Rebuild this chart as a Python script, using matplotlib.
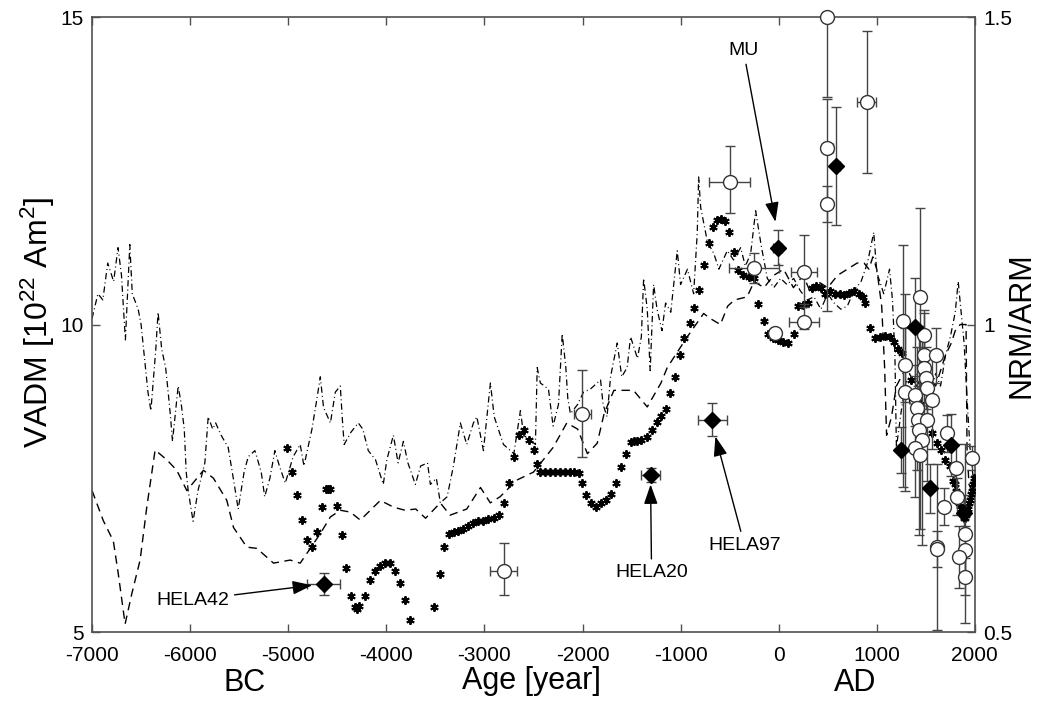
import matplotlib
matplotlib.use("Agg")
import matplotlib.pyplot as plt

plt.rcParams['font.family'] = ['Liberation Sans', 'DejaVu Sans']
plt.rcParams['mathtext.fontset'] = 'custom'
plt.rcParams['mathtext.rm'] = 'Liberation Sans'
plt.rcParams['mathtext.it'] = 'Liberation Sans:italic'
plt.rcParams['mathtext.bf'] = 'Liberation Sans:bold'
plt.rcParams['axes.unicode_minus'] = False

# ---- dash-dot model curve ----
dd_x = [-7000,-6940,-6890,-6840,-6780,-6735,-6700,-6660,-6615,-6590,-6530,-6500,-6462,-6430,-6400,-6350,-6327,-6290,-6250,-6224,
        -6200,-6180,-6122,-6090,-6060,-6040,-6020,-5970,-5920,-5850,-5816,-5770,-5740,-5684,-5612,-5560,-5510,-5450,-5408,-5340,
        -5275,-5240,-5187,-5136,-5090,-5030,-4950,-4878,-4840,-4758,-4707,-4673,-4640,-4570,-4520,-4469,-4450,-4430,-4360,-4286,
        -4240,-4184,-4110,-4031,-3995,-3928,-3880,-3826,-3780,-3704,-3650,-3580,-3551,-3490,-3449,-3380,-3316,-3245,-3180,-3112,
        -3077,-3010,-2939,-2900,-2806,-2700,-2633,-2600,-2480,-2462,-2430,-2347,-2300,-2245,-2207,-2170,-2150,-2123,-2050,-1990,
        -1920,-1816,-1790,-1750,-1714,-1646,-1600,-1545,-1510,-1440,-1400,-1377,-1340,-1310,-1275,-1240,-1190,-1153,-1100,-1034,
        -1000,-930,-867,-830,-816,-795,-727,-660,-610,-524,-460,-388,-340,-286,-235,-180,-116,-50,20,85,
        153,220,292,360,430,500,565,633,700,767,840,905,969,1000,1071,1130,1160,1185,1200,1250,
        1300,1350,1400,1450,1500,1550,1600,1650,1700,1750,1800,1830,1860,1890,1920,1950,1990]
dd_y = [10.1,10.5,10.4,11.0,10.7,11.25,10.8,9.75,11.3,10.5,10.25,10.0,9.4,8.9,8.6,9.6,10.2,9.6,9.3,8.9,
        8.5,8.1,9.0,8.7,8.3,7.6,7.3,6.8,7.3,7.75,8.5,8.3,8.4,8.2,8.0,7.5,7.0,7.6,7.85,7.95,
        7.6,7.2,7.5,7.95,7.7,7.42,7.85,8.05,7.7,8.3,8.8,9.15,8.65,8.4,8.9,9.0,8.5,8.05,8.25,8.4,
        8.3,7.95,7.8,7.4,7.8,8.2,7.75,8.1,7.75,7.4,7.7,7.75,7.4,7.5,7.1,7.2,7.7,8.4,8.05,8.4,
        8.5,7.95,9.05,8.5,8.05,7.9,8.6,8.2,8.05,9.3,9.05,8.95,8.35,8.7,9.85,9.3,8.8,8.55,8.7,8.9,
        8.95,9.1,8.7,8.5,9.15,9.7,9.15,9.3,9.8,9.45,9.8,10.75,10.25,9.25,10.65,10.25,9.9,10.35,10.2,11.2,
        10.65,10.9,10.5,11.5,12.4,11.9,11.35,11.15,10.9,11.2,11.05,11.25,10.95,11.15,11.85,11.3,10.75,10.6,10.75,10.65,
        10.75,10.55,10.4,10.45,10.25,10.5,10.35,10.25,10.3,10.55,10.7,11.0,11.5,10.85,10.5,10.9,10.4,9.5,8.0,8.6,
        9.1,8.6,9.2,8.8,9.3,8.9,9.2,9.0,9.5,9.8,10.2,10.7,10.2,9.7,8.8,8.0,7.4]

# ---- dashed model curve ----
ds_x = [-7000,-6885,-6783,-6732,-6663,-6595,-6510,-6442,-6357,-6238,-6136,-6034,-5864,-5762,-5626,-5558,-5422,-5320,-5150,-4980,
        -4878,-4809,-4673,-4571,-4469,-4367,-4265,-4163,-4061,-3926,-3810,-3700,-3600,-3450,-3350,-3180,-3040,-2940,-2840,-2670,
        -2500,-2300,-2160,-2050,-1950,-1850,-1780,-1680,-1480,-1340,-1200,-1136,-932,-765,-700,-594,-520,-450,-322,-250,
        -150,-50,50,150,250,330,400,500,600,700,800,870,920,960,1000,1050,1080,1100,1150,1200,
        1300,1400,1500,1600,1700,1760,1800,1850,1910,1920,1940,2000]
ds_y = [7.3,6.81,6.48,5.94,5.13,5.62,6.17,7.03,7.96,7.8,7.63,7.3,7.63,7.5,7.14,6.7,6.38,6.36,6.12,6.17,
        6.12,6.28,6.6,6.87,6.98,6.95,6.82,6.98,7.14,7.03,6.98,7.0,6.85,7.1,6.9,7.0,7.35,7.1,7.2,7.47,
        7.6,8.0,8.4,8.3,7.9,8.07,8.55,8.93,8.93,8.66,9.05,9.3,9.8,10.18,10.1,10.0,10.3,10.4,10.45,10.7,
        10.6,10.8,10.9,10.6,10.8,10.5,10.7,10.6,10.8,10.9,11.0,11.0,10.9,11.1,10.9,10.3,9.3,8.2,8.5,9.0,
        9.3,9.0,9.2,9.0,9.5,9.7,9.9,10.0,10.0,8.0,7.4,7.2]

# ---- asterisk series ----
ast_x = [-5014,-4963,-4912,-4861,-4810,-4760,-4708,-4657,-4620,-4595,-4570,-4504,-4453,-4412,-4358,-4320,-4300,-4280,-4214,-4163,
         -4112,-4061,-4010,-3960,-3909,-3858,-3807,-3757,-3519,-3457,-3416,-3365,-3315,-3265,-3215,-3165,-3115,-3065,-3015,-2960,
         -2905,-2855,-2803,-2751,-2700,-2650,-2599,-2548,-2497,-2463,-2430,-2380,-2330,-2280,-2230,-2180,-2130,-2090,-2038,-2004,
         -1969,-1918,-1867,-1816,-1765,-1714,-1663,-1612,-1560,-1510,-1475,-1440,-1400,-1340,-1290,-1240,-1195,-1147,-1104,-1060,
         -1010,-970,-908,-867,-816,-765,-715,-669,-630,-590,-550,-507,-460,-410,-360,-300,-250,-212,-150,-112,
         -60,-10,40,90,155,200,250,300,340,380,430,470,520,570,620,670,720,770,820,860,
         885,932,985,1030,1080,1130,1180,1220,1260,1300,1350,1400,1450,1500,1560,1610,1650,1700,1750,1780,
         1800,1810,1820,1830,1840,1850,1860,1870,1880,1890,1900,1910,1920,1930,1940,1950,1960,1970,1980,1990]
ast_y = [8.0,7.6,7.22,6.82,6.5,6.38,6.62,7.03,7.32,7.32,7.32,7.05,6.58,6.04,5.58,5.4,5.38,5.42,5.58,5.85,
         6.0,6.08,6.13,6.12,6.0,5.79,5.52,5.2,5.4,5.95,6.38,6.6,6.62,6.65,6.68,6.72,6.77,6.8,6.8,6.83,
         6.85,6.9,7.1,7.42,7.85,8.2,8.28,8.12,7.96,7.74,7.6,7.6,7.6,7.6,7.6,7.6,7.6,7.6,7.58,7.42,
         7.22,7.1,7.03,7.1,7.15,7.25,7.42,7.68,7.9,8.09,8.1,8.1,8.12,8.17,8.28,8.41,8.52,8.63,8.88,9.14,
         9.5,9.78,10.02,10.27,10.56,10.97,11.32,11.59,11.7,11.72,11.68,11.5,11.18,10.89,10.8,10.78,10.75,10.34,10.05,9.85,
         9.78,9.75,9.72,9.7,9.85,10.3,10.32,10.35,10.6,10.62,10.6,10.5,10.55,10.5,10.5,10.48,10.52,10.55,10.5,10.45,
         10.35,9.94,9.78,9.8,9.82,9.8,9.72,9.6,9.53,9.3,9.1,8.9,8.7,8.45,8.23,8.07,7.96,7.8,7.7,7.45,
         7.4,7.3,7.25,7.2,7.1,7.05,7.0,6.95,6.9,6.85,6.85,6.9,6.95,7.0,7.1,7.15,7.25,7.3,7.4,7.5]

# ---- open circles (archaeomagnetic data) ----
circ_x   = [-2803,-2003,-501,-252,256,256,-35,497,497,497,897,
            1269,1290,1290,1392,1439,1480,1480,1480,1497,1515,1564,1599,1410,1425,1515,1430,1460,1392,1440,
            1615,1612,1712,1684,1805,1815,1970,1900,1900,1835,1900]
circ_y   = [6.0,8.55,12.32,10.92,10.86,10.04,9.87,15.0,12.87,11.96,13.62,
            10.05,9.34,8.9,8.85,10.45,9.83,9.5,9.29,9.13,8.97,8.77,9.5,8.64,8.45,8.45,8.28,8.12,7.99,7.88,
            6.39,6.35,8.23,7.04,7.66,7.2,7.83,6.6,6.33,6.22,5.9]
circ_xe  = [140,85,210,255,130,150,30,0,60,35,100,
            0,0,0,0,0,0,0,0,0,0,0,0,0,0,0,0,0,0,0,
            0,0,0,0,0,0,0,0,0,0,0]
circ_ylo = [0.4,0.7,0.5,0.25,0.57,0.12,0.05,1.3,2.65,0.3,1.15,
            2.7,0.6,1.6,0.5,1.45,0.4,0.3,0.9,0.5,0.6,0.8,0.45,1.0,0.5,1.0,1.7,1.7,0.8,1.2,
            1.35,0.3,0.3,0.3,0.4,0.3,0.2,1.45,0.4,0.5,0.3]
circ_yhi = [0.45,0.71,0.58,0.25,0.6,0.3,0.05,1.3,0.8,0.3,1.15,
            1.25,0.6,1.6,0.5,1.45,0.4,0.3,0.9,0.5,0.6,0.8,0.45,1.0,0.5,1.0,1.7,1.7,0.8,1.2,
            1.35,0.3,0.3,0.3,0.4,0.3,0.2,1.45,0.4,0.5,0.3]

# ---- filled diamonds (this study) ----
dia_x  = [-4640,-1306,-677,-12,589,1392,1242,1540,1760,1887]
dia_y  = [5.78,7.55,8.45,11.25,12.58,9.96,7.96,7.34,8.04,6.93]
dia_xe = [170,100,150,50,40,0,0,0,0,0]
dia_ye = [0.18,0.11,0.27,0.29,0.96,0.8,0.38,0.4,0.5,0.3]

# ---- annotations ----
ann_text = ['HELA42', 'HELA20', 'HELA97', 'MU']
ann_txy  = [(-5975, 5.52), (-1296, 5.96), (-348, 6.41), (-360, 14.46)]
ann_xy   = [(-4756, 5.76), (-1306, 7.40), (-645, 8.18), (-33, 11.67)]

fig = plt.figure(figsize=(10.46, 7.02), dpi=100)
ax = fig.add_axes([0.088, 0.0997, 0.844, 0.876])
edge = '#505050'

ax.plot(dd_x, dd_y, color='black', lw=0.9, linestyle=(0, (5, 2.5, 0.8, 2.5)), zorder=2)
ax.plot(ds_x, ds_y, color='black', lw=1.0, linestyle=(0, (6, 4)), zorder=2)
ax.plot(ast_x, ast_y, linestyle='none', marker=(6, 2, 0), ms=6, mew=1.4,
        color='black', zorder=3)

ax.errorbar(circ_x, circ_y, xerr=circ_xe, yerr=[circ_ylo, circ_yhi], fmt='none',
            ecolor='#444444', elinewidth=1.0, capsize=3.5, capthick=1.0, zorder=4)
ax.errorbar(dia_x, dia_y, xerr=dia_xe, yerr=dia_ye, fmt='none',
            ecolor='#444444', elinewidth=1.0, capsize=3.5, capthick=1.0, zorder=4)
ax.plot(circ_x, circ_y, linestyle='none', marker='o', ms=10, mfc='white',
        mec='#333333', mew=1.0, zorder=5, clip_on=False)
ax.plot(dia_x, dia_y, linestyle='none', marker='D', ms=8, mfc='black',
        mec='black', zorder=6)

for t, txy, xy in zip(ann_text, ann_txy, ann_xy):
    ax.annotate(t, xy=xy, xytext=txy, ha='center', va='center', fontsize=14,
                arrowprops=dict(arrowstyle='-|>,head_length=0.8,head_width=0.28',
                                color='black', lw=1.0, shrinkA=2, shrinkB=0,
                                mutation_scale=15),
                zorder=7)

ax.set_xlim(-7000, 2000)
ax.set_ylim(5, 15)
ax.set_xticks(range(-7000, 2001, 1000))
ax.set_yticks([5, 10, 15])
ax.tick_params(direction='in', length=6, width=1, color=edge, labelsize=15,
               top=True, right=False, pad=6)
ax.tick_params(axis='x', pad=10)
for s in ax.spines.values():
    s.set_color(edge)
    s.set_linewidth(1.2)

ax2 = ax.twinx()
ax2.set_ylim(0.5, 1.5)
ax2.set_yticks([0.5, 1, 1.5])
ax2.set_yticklabels(['0.5', '1', '1.5'])
ax2.tick_params(direction='in', length=6, width=1, color=edge, labelsize=15, pad=6)
for s in ax2.spines.values():
    s.set_visible(False)

fig.text(38/1046, 1-322/702, r'VADM [10$^{22}$ Am$^{2}$]', rotation=90,
         ha='center', va='center', fontsize=23)
fig.text(1022/1046, 1-325/702, 'NRM/ARM', rotation=90, ha='center', va='center', fontsize=22)
fig.text(531/1046, 1-681/702, 'Age [year]', ha='center', va='center', fontsize=22)
fig.text(245/1046, 1-683/702, 'BC', ha='center', va='center', fontsize=22)
fig.text(855/1046, 1-683/702, 'AD', ha='center', va='center', fontsize=22)

fig.savefig('out.png', dpi=100)
